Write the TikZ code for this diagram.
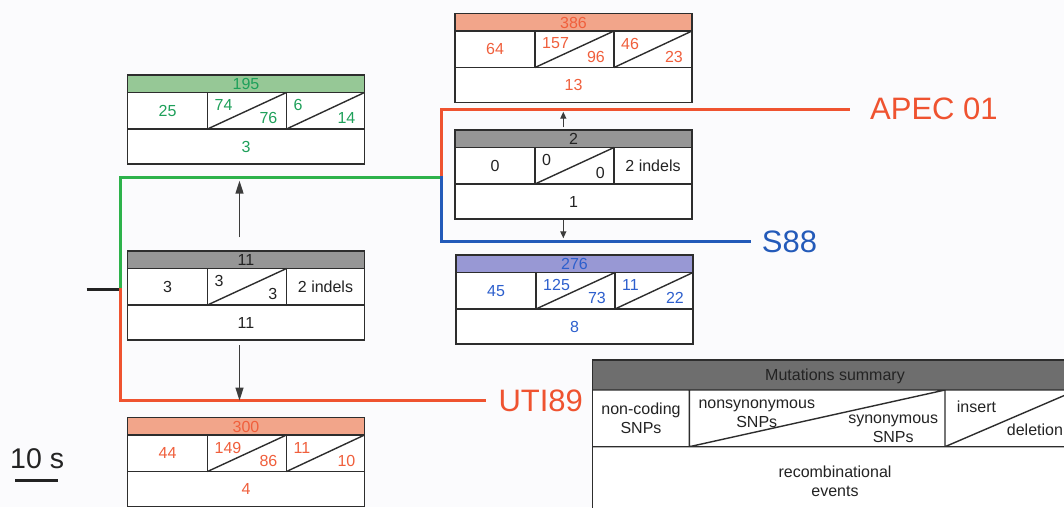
\documentclass[tikz,border=0pt]{standalone}
\usepackage{fontspec}
\setmainfont{Liberation Sans}
\usetikzlibrary{arrows.meta}

\definecolor{paper}{RGB}{251,251,253}
\definecolor{ink}{RGB}{35,35,35}
\definecolor{framecol}{RGB}{45,45,45}
\definecolor{arrowcol}{RGB}{60,60,60}
\definecolor{redline}{RGB}{239,83,48}
\definecolor{redtext}{RGB}{240,95,60}
\definecolor{salmon}{RGB}{242,165,138}
\definecolor{greenline}{RGB}{45,178,75}
\definecolor{greentext}{RGB}{30,160,90}
\definecolor{greenhead}{RGB}{150,200,150}
\definecolor{blueline}{RGB}{35,90,185}
\definecolor{bluetext}{RGB}{45,95,205}
\definecolor{bluehead}{RGB}{152,152,212}
\definecolor{grayhead}{RGB}{150,150,150}
\definecolor{legendhead}{RGB}{110,110,110}

\tikzset{
  boxline/.style={draw=framecol, line width=1.4pt},
  cell/.style={inner sep=0pt, font=\fontsize{16}{19}\selectfont},
  branch/.style={line width=3pt, line cap=rect},
  strain/.style={inner sep=0pt, anchor=west, font=\fontsize{31}{36}\selectfont},
  bigarrow/.style={draw=arrowcol, line width=1.5pt, -{Triangle[length=13pt,width=8pt]}},
  smallarrow/.style={draw=arrowcol, line width=1.3pt, -{Triangle[length=7pt,width=6pt]}},
}

% split cell: upper-left / lower-right values separated by a diagonal
\newcommand\diagpair[4]{%
  \draw[boxline] (#1,54) -- (#2,17.5);
  \node[cell, anchor=west] (\curbox-up#1) at ({#1+7},30) {#3};
  \node[cell, anchor=east] (\curbox-lo#1) at ({#2-9},43) {#4};
}
% one mutation box: #1 name, #2 x, #3 y, #4 header fill, #5 text colour,
% #6 header value, #7 non-coding value, #8 remaining cells, #9 recombinations
\newcommand\strainbox[9]{%
  \def\curbox{#1}%
  \begin{scope}[shift={(#2,#3)}, text=#5]
    \fill[white] (0,0) rectangle (237,89);
    \fill[#4] (0,0) rectangle (237,17.5);
    \draw[boxline] (0,17.5) -- (237,17.5) (0,54) -- (237,54)
                   (80,17.5) -- (80,54) (159,17.5) -- (159,54);
    \node[cell] (#1-head) at (118.5,9) {#6};
    \node[cell] (#1-nc) at (40,35.75) {#7};
    #8
    \node[cell] (#1-rec) at (118.5,71.5) {#9};
    \node[boxline, anchor=north west, minimum width=237pt, minimum height=89pt,
          inner sep=0pt, outer sep=0pt] (#1) at (0,0) {};
  \end{scope}
}

\begin{document}
\begin{tikzpicture}[x=1pt, y=-1pt]
\useasboundingbox (0,0) rectangle (1064,507);
\clip (0,0) rectangle (1064,507);
\fill[paper] (0,0) rectangle (1064,507);

% strain boxes
\strainbox{b386}{455}{13.5}{salmon}{redtext}{386}{64}
  {\diagpair{80}{159}{157}{96}\diagpair{159}{237}{46}{23}}{13}
\strainbox{b195}{127.5}{75}{greenhead}{greentext}{195}{25}
  {\diagpair{80}{159}{74}{76}\diagpair{159}{237}{6}{14}}{3}
\strainbox{b2}{455}{130}{grayhead}{ink}{2}{0}
  {\diagpair{80}{159}{0}{0}\node[cell] (b2-indel) at (198,35.75) {2 indels};}{1}
\strainbox{b276}{456}{255}{bluehead}{bluetext}{276}{45}
  {\diagpair{80}{159}{125}{73}\diagpair{159}{237}{11}{22}}{8}
\strainbox{b11}{127.5}{251}{grayhead}{ink}{11}{3}
  {\diagpair{80}{159}{3}{3}\node[cell] (b11-indel) at (198,35.75) {2 indels};}{11}
\strainbox{b300}{127.5}{417.5}{salmon}{redtext}{300}{44}
  {\diagpair{80}{159}{149}{86}\diagpair{159}{237}{11}{10}}{4}

% strain labels
\node[strain, text=redline] (apec) at (870,109) {APEC 01};
\node[strain, text=blueline] (s88) at (761.7,241.7) {S88};
\node[strain, text=redline] (uti) at (498.3,400.5) {UTI89};

% tree branches
\coordinate (stub) at (86.7,289.3);
\coordinate (root) at (120,289.3);
\coordinate (fork) at (441.7,177.5);
\draw[ink, line width=2.5pt] (stub) -- (root);
\draw[branch, greenline] (root) |- (fork);
\draw[branch, redline, shorten >=22pt] (fork) |- (apec.west);
\draw[branch, blueline, shorten >=12pt] (fork) |- (s88.west);
\draw[branch, redline, shorten >=13.5pt] (root) |- (uti.west);

% arrows between boxes
\draw[bigarrow, shorten <=13.7pt, shorten >=16.7pt]
  ([xshift=-6.5pt]b11.north) -- ([xshift=-6.5pt]b11.north |- b195.south);
\draw[bigarrow, shorten <=5pt]
  ([xshift=-6.5pt]b11.south) -- ([xshift=-6.5pt]b11.south |- uti.west);
\draw[smallarrow, shorten <=2.7pt, shorten >=9.2pt]
  ([xshift=-10.2pt]b2.north) -- ([xshift=-10.2pt]b2.north |- b386.south);
\draw[smallarrow, shorten <=1pt, shorten >=16.7pt]
  ([xshift=-10.2pt]b2.south) -- ([xshift=-10.2pt]b2.south |- b276.north);

% legend
\begin{scope}[shift={(592.7,360)}, text=ink]
  \fill[white] (0,0) rectangle (484.3,160);
  \fill[legendhead] (0,0) rectangle (484.3,30);
  \draw[boxline] (0,30) -- (484.3,30) (0,86.7) -- (484.3,86.7)
                 (96.6,30) -- (96.6,86.7) (352.3,30) -- (352.3,86.7)
                 (96.6,86.7) -- (352.3,30) (352.3,86.7) -- (484.3,30);
  \node[cell] (lg-head) at (242.3,16) {Mutations summary};
  \node[cell, align=center] (lg-nc) at (48.3,58.5) {non-coding\\SNPs};
  \node[cell, align=center, anchor=west] (lg-ns) at (105.6,53.3) {nonsynonymous\\SNPs};
  \node[cell, align=center, anchor=east] (lg-syn) at (345.6,69.2) {synonymous\\SNPs};
  \node[cell, anchor=west] (lg-ins) at (364,46.7) {insert};
  \node[cell, anchor=west] (lg-del) at (414,70) {deletion};
  \node[cell, align=center] (lg-rec) at (242.3,121) {recombinational\\events};
  \node[boxline, anchor=north west, minimum width=484.3pt, minimum height=160pt,
        inner sep=0pt, outer sep=0pt] (legend) at (0,0) {};
\end{scope}

% time scale
\node[inner sep=0pt, anchor=west, text=ink, font=\fontsize{28.5}{32}\selectfont]
  (scale) at (10,458.3) {10 s};
\draw[ink, line width=2.5pt] (15,480.7) -- (58.3,480.7);
\end{tikzpicture}
\end{document}
